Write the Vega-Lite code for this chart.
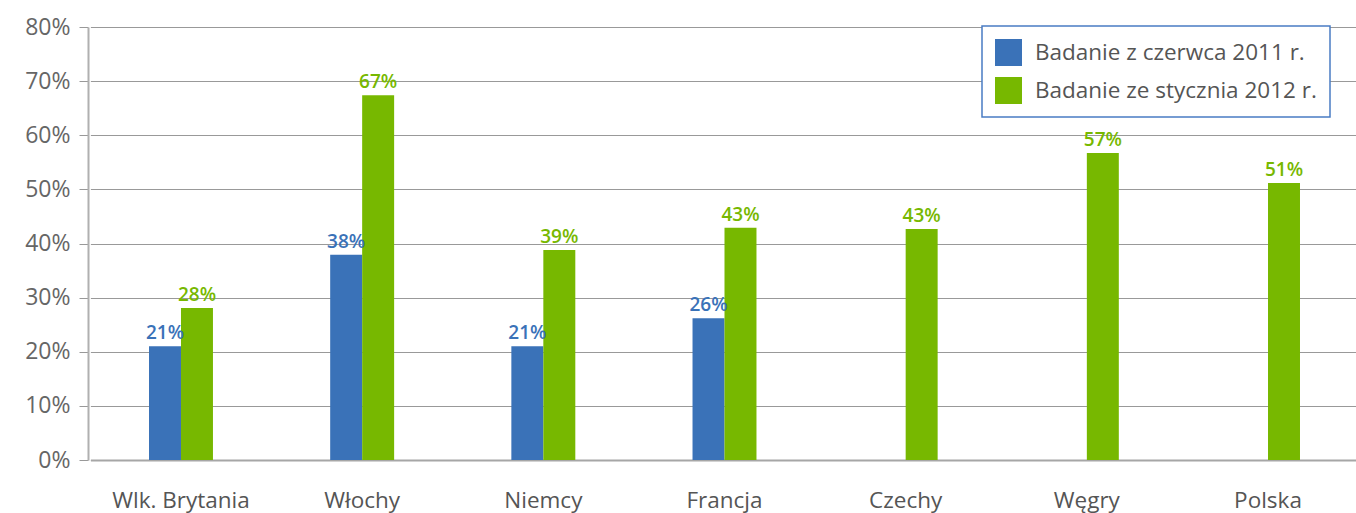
{
  "$schema": "https://vega.github.io/schema/vega-lite/v6.json",
  "autosize": {"type": "none"},
  "padding": {"left": 88, "top": 27, "right": 0, "bottom": 53},
  "width": 1268,
  "height": 433,
  "background": "white",
  "config": {
    "view": {"stroke": null},
    "font": "Open Sans",
    "legend": {"strokeWidth": 1.5}
  },
  "data": {
    "values": [
      {"country": "Wlk. Brytania", "series": "Badanie z czerwca 2011 r.", "value": 0.21},
      {"country": "Wlk. Brytania", "series": "Badanie ze stycznia 2012 r.", "value": 0.281},
      {"country": "Włochy", "series": "Badanie z czerwca 2011 r.", "value": 0.379},
      {"country": "Włochy", "series": "Badanie ze stycznia 2012 r.", "value": 0.674},
      {"country": "Niemcy", "series": "Badanie z czerwca 2011 r.", "value": 0.21},
      {"country": "Niemcy", "series": "Badanie ze stycznia 2012 r.", "value": 0.388},
      {"country": "Francja", "series": "Badanie z czerwca 2011 r.", "value": 0.262},
      {"country": "Francja", "series": "Badanie ze stycznia 2012 r.", "value": 0.429},
      {"country": "Czechy", "series": "Badanie ze stycznia 2012 r.", "value": 0.427},
      {"country": "Węgry", "series": "Badanie ze stycznia 2012 r.", "value": 0.567},
      {"country": "Polska", "series": "Badanie ze stycznia 2012 r.", "value": 0.512}
    ]
  },
  "encoding": {
    "x": {
      "field": "country",
      "type": "nominal",
      "sort": ["Wlk. Brytania", "Włochy", "Niemcy", "Francja", "Czechy", "Węgry", "Polska"],
      "scale": {"paddingInner": 0.647, "paddingOuter": 0.3235, "range": [2.4, 1270.6]},
      "axis": {
        "title": null,
        "labelAngle": 0,
        "labelFontSize": 22.5,
        "labelColor": "#555555",
        "labelPadding": 29,
        "ticks": false,
        "domainColor": "#a6a6a6",
        "domainWidth": 2,
        "grid": false
      }
    },
    "xOffset": {
      "field": "series",
      "type": "nominal",
      "sort": ["Badanie z czerwca 2011 r.", "Badanie ze stycznia 2012 r."],
      "scale": {"domain": ["Badanie z czerwca 2011 r.", "Badanie ze stycznia 2012 r."], "paddingInner": 0, "paddingOuter": 0}
    },
    "y": {
      "field": "value",
      "type": "quantitative",
      "scale": {"domain": [0, 0.8], "nice": false},
      "axis": {
        "title": null,
        "format": ".0%",
        "values": [0, 0.1, 0.2, 0.3, 0.4, 0.5, 0.6, 0.7, 0.8],
        "labelFontSize": 23,
        "labelColor": "#666666",
        "labelPadding": 9,
        "tickSize": 9,
        "tickColor": "#999999",
        "gridColor": "#999999",
        "gridWidth": 1,
        "domainColor": "#b0b0b0",
        "domainWidth": 2
      }
    }
  },
  "layer": [
    {
      "mark": {"type": "bar"},
      "encoding": {
        "color": {
          "field": "series",
          "type": "nominal",
          "scale": {
            "domain": ["Badanie z czerwca 2011 r.", "Badanie ze stycznia 2012 r."],
            "range": ["#3a72b8", "#77b800"]
          },
          "legend": {
            "title": null,
            "orient": "none",
            "legendX": 894,
            "legendY": -1,
            "symbolType": "square",
            "symbolSize": 729,
            "symbolStrokeWidth": 0,
            "labelFontSize": 22.5,
            "labelColor": "#555555",
            "labelOffset": 13,
            "rowPadding": 11,
            "padding": 13,
            "strokeColor": "#4a7cc4",
            "fillColor": "white",
            "labelLimit": 400
          }
        }
      }
    },
    {
      "mark": {"type": "text", "dy": -7, "baseline": "alphabetic", "fontWeight": 600, "fontSize": 19},
      "encoding": {
        "text": {"field": "value", "type": "quantitative", "format": ".0%"},
        "color": {
          "field": "series",
          "type": "nominal",
          "scale": {
            "domain": ["Badanie z czerwca 2011 r.", "Badanie ze stycznia 2012 r."],
            "range": ["#3a72b8", "#77b800"]
          },
          "legend": null
        }
      }
    }
  ]
}
